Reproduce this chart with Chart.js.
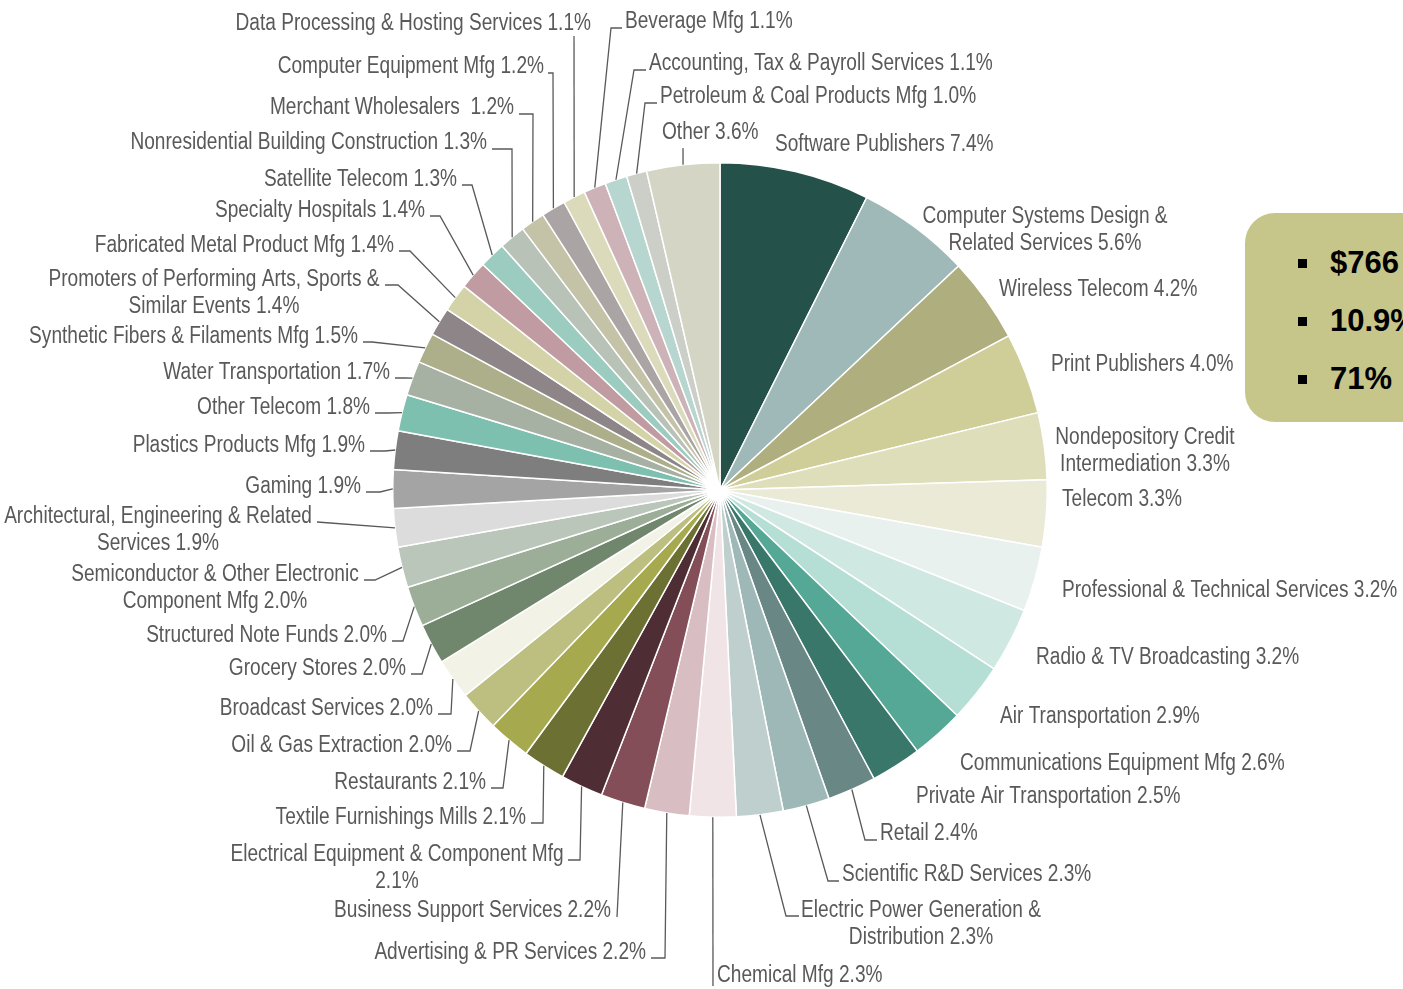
<!DOCTYPE html>
<html>
<head>
<title>Industry Share Pie</title>
<script src="https://cdn.jsdelivr.net/npm/chart.js"></script>
<style>
  html, body { margin: 0; padding: 0; width: 1403px; height: 989px; overflow: hidden; background: #fff; }
  #wrap { position: relative; width: 1403px; height: 989px; }
  #keyBox {
    position: absolute; left: 1245px; top: 213px; width: 260px; height: 209px;
    background: #C6C68B; border-radius: 30px;
    font-family: "Liberation Sans", Arial, sans-serif; font-weight: bold; font-size: 31px; color: #000;
  }
  #keyBox .row { position: absolute; left: 85px; height: 36px; line-height: 36px; white-space: nowrap; }
  #keyBox .row::before {
    content: ""; position: absolute; left -32px; left: -32px; top: 14px; width: 9px; height: 9px; background: #000;
  }
</style>
</head>
<body>
<div id="wrap">
  <canvas id="pie" width="1403" height="989"></canvas>
  <div id="keyBox">
    <div class="row" style="top:32px">$766</div>
    <div class="row" style="top:90px">10.9%</div>
    <div class="row" style="top:148px">71%</div>
  </div>
</div>

<script>
  // data, clockwise from 12 o'clock
  const categories = [
    'Software Publishers', 'Computer Systems Design & Related Services', 'Wireless Telecom',
    'Print Publishers', 'Nondepository Credit Intermediation', 'Telecom',
    'Professional & Technical Services', 'Radio & TV Broadcasting', 'Air Transportation',
    'Communications Equipment Mfg', 'Private Air Transportation', 'Retail',
    'Scientific R&D Services', 'Electric Power Generation & Distribution', 'Chemical Mfg',
    'Advertising & PR Services', 'Business Support Services', 'Electrical Equipment & Component Mfg',
    'Textile Furnishings Mills', 'Restaurants', 'Oil & Gas Extraction',
    'Broadcast Services', 'Grocery Stores', 'Structured Note Funds',
    'Semiconductor & Other Electronic Component Mfg', 'Architectural, Engineering & Related Services', 'Gaming',
    'Plastics Products Mfg', 'Other Telecom', 'Water Transportation',
    'Synthetic Fibers & Filaments Mfg', 'Promoters of Performing Arts, Sports & Similar Events', 'Fabricated Metal Product Mfg',
    'Specialty Hospitals', 'Satellite Telecom', 'Nonresidential Building Construction',
    'Merchant Wholesalers ', 'Computer Equipment Mfg', 'Data Processing & Hosting Services',
    'Beverage Mfg', 'Accounting, Tax & Payroll Services', 'Petroleum & Coal Products Mfg',
    'Other'
  ];
  const shares = [
    7.4, 5.6, 4.2, 4.0, 3.3, 3.3, 3.2, 3.2, 2.9, 2.6, 2.5, 2.4, 2.3, 2.3, 2.3,
    2.2, 2.2, 2.1, 2.1, 2.1, 2.0, 2.0, 2.0, 2.0, 2.0, 1.9, 1.9, 1.9, 1.8, 1.7,
    1.5, 1.4, 1.4, 1.4, 1.3, 1.3, 1.2, 1.2, 1.1, 1.1, 1.1, 1.0, 3.6
  ];

  const sliceColors = [
    '#24524A', '#9FB8B8', '#AFAE7E', '#D0CE98', '#DFDEBB', '#EBEAD7', '#E8F1EE', '#D0E8E2',
    '#B5DED5', '#55A796', '#38776A', '#688785', '#9EB8B8', '#BFCFCE', '#F0E4E6', '#D8BEC2',
    '#834E58', '#4E2D35', '#6D7033', '#A6A94E', '#BDBF80', '#F2F2E6', '#70876D', '#9CAE98',
    '#BAC6BA', '#DCDCDC', '#A4A4A4', '#7E7E7E', '#7EC0AF', '#A6B1A3', '#ADAF8A', '#8D8587',
    '#D4D3A8', '#C09BA1', '#9CCBC0', '#B8C2B7', '#C4C3A8', '#AAA4A4', '#DBDBBC', '#CDB3B8',
    '#B7D6CF', '#CBCFC7', '#D5D5C5'
  ];

  // label layout: text x, y, align, words on first line, leader elbow x/y, stub end x
  const labelLayout = [
    [775, 143, 'left'], [1045, 215, 'center', 4], [999, 288, 'left'], [1051, 363, 'left'],
    [1145, 436, 'center', 2], [1062, 498, 'left'], [1062, 589, 'left'], [1036, 656, 'left'],
    [1000, 715, 'left'], [960, 762, 'left'], [916, 795, 'left'],
    [880, 832, 'left', 0, 865, 840, 877],
    [842, 873, 'left', 0, 828, 881, 839],
    [921, 909, 'center', 4, 786, 916, 799],
    [717, 974, 'left', 0, 713, 986, null],
    [646, 951, 'right', 0, 665, 958, 651],
    [611, 909, 'right', 0, 617, 917, null],
    [397, 853, 'center', 5, 580, 860, 568],
    [526, 816, 'right', 0, 543, 823, 531],
    [486, 781, 'right', 0, 503, 788, 491],
    [452, 744, 'right', 0, 470, 751, 457],
    [433, 707, 'right', 0, 451, 714, 438],
    [406, 667, 'right', 0, 422, 674, 411],
    [387, 634, 'right', 0, 403, 641, 392],
    [215, 573, 'center', 4, 375, 580, 364],
    [158, 515, 'center', 4, 317, 522, null],
    [361, 485, 'right', 0, 380, 492, 366],
    [365, 444, 'right', 0, 385, 451, 370],
    [370, 406, 'right', 0, 388, 413, 375],
    [390, 371, 'right', 0, 405, 378, 395],
    [358, 335, 'right', 0, 372, 342, 363],
    [214, 278, 'center', 6, 398, 285, 385],
    [394, 244, 'right', 0, 410, 251, 399],
    [425, 209, 'right', 0, 440, 216, 430],
    [457, 178, 'right', 0, 472, 185, 462],
    [487, 141, 'right', 0, 512, 149, 492],
    [514, 106, 'right', 0, 533, 114, 519],
    [544, 65, 'right', 0, 553, 73, 548],
    [591, 22, 'right', 0, 574, 36, null],
    [625, 20, 'left', 0, 611, 28, 622],
    [649, 62, 'left', 0, 634, 70, 646],
    [660, 95, 'left', 0, 645, 103, 657],
    [662, 131, 'left', 0, 683, 148, null]
  ];

  const TEXT_COLOR = '#595959';
  const FONT_PX = 23;
  const LINE_GAP = 27;

  // narrow font if it exists, otherwise squeeze Liberation Sans
  function fontExists(name) {
    const c = document.createElement('canvas').getContext('2d');
    const s = 'Processing & Hosting 1.1%';
    c.font = '40px monospace';
    const w1 = c.measureText(s).width;
    c.font = '40px "' + name + '", monospace';
    return c.measureText(s).width !== w1;
  }
  const narrow = fontExists('Liberation Sans Narrow');
  const labelFont = narrow ? FONT_PX + 'px "Liberation Sans Narrow"' : FONT_PX + 'px "Liberation Sans", Arial';
  const squeeze = narrow ? 1.012 : 0.83;

  function drawText(ctx, str, x, y, align) {
    ctx.save();
    ctx.scale(squeeze, 1);
    ctx.textAlign = align;
    ctx.fillText(str, x / squeeze, y + 2);
    ctx.restore();
  }

  const sliceLabels = {
    id: 'sliceLabels',
    afterDatasetsDraw(chart) {
      const ctx = chart.ctx;
      const arcs = chart.getDatasetMeta(0).data;
      ctx.save();
      ctx.font = labelFont;
      ctx.textBaseline = 'middle';
      ctx.fillStyle = TEXT_COLOR;
      ctx.strokeStyle = TEXT_COLOR;
      ctx.lineWidth = 1.3;

      arcs.forEach((arc, i) => {
        const p = arc.getProps(['x', 'y', 'startAngle', 'endAngle', 'outerRadius'], true);
        const [tx, ty, align, br, ex, ey, sx] = labelLayout[i];

        if (ex !== undefined) {
          const mid = (p.startAngle + p.endAngle) / 2;
          ctx.beginPath();
          ctx.moveTo(p.x + Math.cos(mid) * p.outerRadius, p.y + Math.sin(mid) * p.outerRadius);
          ctx.lineTo(ex, ey);
          if (sx !== null) ctx.lineTo(sx, ey);
          ctx.stroke();
        }

        const full = categories[i] + ' ' + shares[i].toFixed(1) + '%';
        let lines = [full];
        if (br) {
          const words = full.split(' ');
          lines = [words.slice(0, br).join(' '), words.slice(br).join(' ')];
        }
        lines.forEach((ln, k) => drawText(ctx, ln, tx, ty + k * LINE_GAP, align));
      });
      ctx.restore();
    }
  };

  const ctx = document.getElementById('pie').getContext('2d');
  const pieChart = new Chart(ctx, {
    type: 'pie',
    data: {
      labels: categories,
      datasets: [{
        data: shares,
        backgroundColor: sliceColors,
        borderColor: '#ffffff',
        borderWidth: 1.5
      }]
    },
    options: {
      responsive: false,
      animation: false,
      layout: { padding: { left: 392, right: 355, top: 162, bottom: 171 } },
      plugins: {
        legend: { display: false },
        tooltip: { enabled: false }
      }
    },
    plugins: [sliceLabels]
  });
</script>
</body>
</html>
